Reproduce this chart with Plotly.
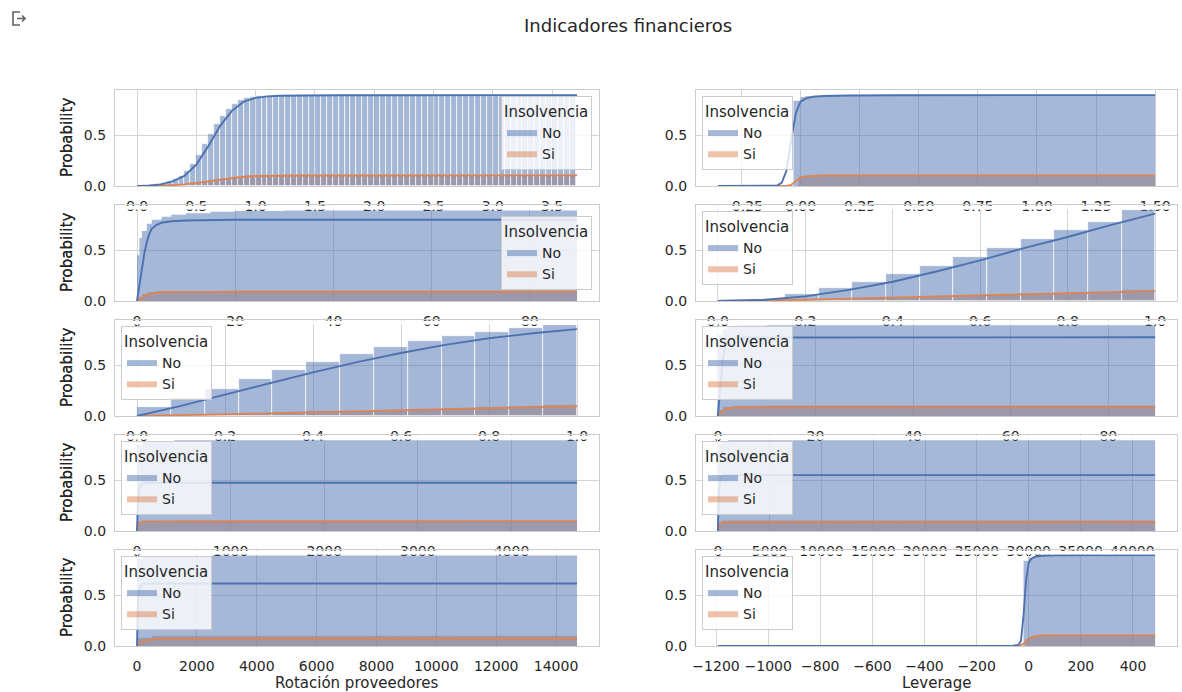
import plotly.graph_objects as go

W, H = 1182, 692

FONT = "DejaVu Sans"
TEXT = "#262626"
GRID = "#d4d4d4"
EDGE = "#cccccc"
BLUE = "#4c72b0"
ORANGE = "#dd8452"
BLUE_FILL = "rgba(76,114,176,0.5)"
ORANGE_FILL = "rgba(221,132,82,0.5)"

# ------------------------------------------------------------------
# Cumulative probability per indicator, split by Insolvencia (No / Si)
# ------------------------------------------------------------------

# Indicator 1: histogram bins of width 0.05 starting at 0
p1_start, p1_width = 0.0, 0.05
p1_no = [
    0.002, 0.005, 0.010, 0.018, 0.030, 0.048, 0.072, 0.100, 0.150, 0.220,
    0.310, 0.410, 0.510, 0.610, 0.690, 0.760, 0.810, 0.845, 0.865, 0.876,
    0.882, 0.886, 0.888, 0.889, 0.890, 0.891, 0.891, 0.892, 0.892, 0.892,
    0.893, 0.893, 0.893, 0.893, 0.894, 0.894, 0.894, 0.894, 0.894, 0.894,
    0.894, 0.894, 0.895, 0.895, 0.895, 0.895, 0.895, 0.895, 0.895, 0.895,
    0.895, 0.895, 0.895, 0.895, 0.895, 0.895, 0.895, 0.895, 0.895, 0.895,
    0.895, 0.895, 0.895, 0.895, 0.895, 0.895, 0.895, 0.895, 0.895, 0.895,
    0.895, 0.895, 0.895, 0.895,
]
p1_si = [
    0.000, 0.001, 0.002, 0.003, 0.005, 0.008, 0.012, 0.017, 0.023, 0.030,
    0.038, 0.047, 0.056, 0.065, 0.073, 0.080, 0.086, 0.091, 0.095, 0.098,
    0.100, 0.101, 0.102, 0.103, 0.103, 0.104, 0.104, 0.104, 0.105, 0.105,
    0.105, 0.105, 0.105, 0.105, 0.105, 0.105, 0.105, 0.105, 0.105, 0.105,
    0.105, 0.105, 0.105, 0.105, 0.105, 0.105, 0.105, 0.105, 0.105, 0.105,
    0.105, 0.105, 0.105, 0.105, 0.105, 0.105, 0.105, 0.105, 0.105, 0.105,
    0.105, 0.105, 0.105, 0.105, 0.105, 0.105, 0.105, 0.105, 0.105, 0.105,
    0.105, 0.105, 0.105, 0.105,
]
p1_line_x = [0, 0.1, 0.2, 0.3, 0.4, 0.5, 0.6, 0.7, 0.8, 0.9, 1.0, 1.1, 1.2,
             1.4, 1.7, 2.2, 3.0, 3.71]
p1_line_no = [0, 0.004, 0.016, 0.045, 0.10, 0.21, 0.39, 0.59, 0.74, 0.83,
              0.868, 0.882, 0.888, 0.891, 0.893, 0.894, 0.895, 0.895]
p1_line_si = [0, 0.001, 0.003, 0.008, 0.016, 0.028, 0.045, 0.063, 0.079,
              0.091, 0.098, 0.101, 0.103, 0.104, 0.104, 0.105, 0.105, 0.105]

# Indicator 2
p2_fill_x_no = [-0.35, -0.03, 0.0, 0.02, 0.05, 0.10, 0.30, 1.50]
p2_fill_no = [0.002, 0.84, 0.875, 0.886, 0.891, 0.893, 0.895, 0.895]
p2_fill_x_si = [-0.35, -0.01, 0.01, 0.05, 0.20, 1.50]
p2_fill_si = [0.001, 0.08, 0.098, 0.103, 0.105, 0.105]
p2_line_x_no = [-0.35, -0.15, -0.10, -0.08, -0.06, -0.04, -0.02, 0.0, 0.02,
                0.05, 0.10, 0.20, 0.40, 1.50]
p2_line_no = [0.0, 0.0, 0.005, 0.03, 0.15, 0.45, 0.72, 0.83, 0.86, 0.877,
              0.886, 0.891, 0.894, 0.895]
p2_line_x_si = [-0.35, -0.06, -0.04, -0.02, 0.0, 0.02, 0.05, 0.10, 0.30, 1.50]
p2_line_si = [0.0, 0.0, 0.01, 0.05, 0.085, 0.095, 0.10, 0.103, 0.105, 0.105]

# Indicator 3
p3_fill_x_no = [0, 0.5, 1, 2, 3, 5, 7, 10, 15, 20, 30, 89.6]
p3_fill_no = [0.45, 0.62, 0.69, 0.76, 0.80, 0.83, 0.85, 0.865, 0.878, 0.885,
              0.892, 0.895]
p3_fill_x_si = [0, 1, 2, 4, 8, 20, 89.6]
p3_fill_si = [0.04, 0.07, 0.085, 0.093, 0.098, 0.102, 0.105]
p3_line_x_no = [0, 0.5, 1, 1.5, 2, 2.5, 3, 4, 5, 7, 10, 20, 89.6]
p3_line_no = [0, 0.16, 0.33, 0.47, 0.58, 0.66, 0.71, 0.75, 0.77, 0.785, 0.793,
              0.80, 0.80]
p3_line_x_si = [0, 1, 2, 3, 4, 6, 10, 89.6]
p3_line_si = [0, 0.03, 0.06, 0.075, 0.083, 0.088, 0.09, 0.092]

# Indicator 4: 13 bins on [0, 1]
p4_start, p4_width = 0.0, 1 / 13
p4_no = [0.005, 0.022, 0.070, 0.125, 0.190, 0.265, 0.345, 0.430, 0.520,
         0.610, 0.695, 0.780, 0.895]
p4_si = [0.002, 0.007, 0.014, 0.021, 0.029, 0.036, 0.044, 0.052, 0.060,
         0.068, 0.077, 0.088, 0.105]
p4_line_x = [0, 0.1, 0.2, 0.3, 0.4, 0.5, 0.6, 0.7, 0.8, 0.9, 1.0]
p4_line_no = [0, 0.01, 0.045, 0.11, 0.19, 0.29, 0.40, 0.52, 0.63, 0.75, 0.86]
p4_line_si = [0, 0.004, 0.013, 0.023, 0.033, 0.043, 0.054, 0.064, 0.074,
              0.085, 0.097]

# Indicator 5: 13 bins on [0, 1]
p5_start, p5_width = 0.0, 1 / 13
p5_no = [0.085, 0.175, 0.270, 0.360, 0.450, 0.535, 0.610, 0.680, 0.740,
         0.790, 0.830, 0.865, 0.895]
p5_si = [0.006, 0.013, 0.021, 0.029, 0.037, 0.045, 0.053, 0.061, 0.069,
         0.077, 0.086, 0.095, 0.105]
p5_line_x = [0, 0.1, 0.2, 0.3, 0.4, 0.5, 0.6, 0.7, 0.8, 0.9, 1.0]
p5_line_no = [0, 0.10, 0.21, 0.32, 0.43, 0.53, 0.62, 0.70, 0.765, 0.815, 0.855]
p5_line_si = [0, 0.007, 0.016, 0.026, 0.036, 0.046, 0.056, 0.066, 0.076,
              0.086, 0.096]

# Indicator 6
p6_fill_x_no = [0, 1, 2, 4, 10, 89.6]
p6_fill_no = [0.80, 0.86, 0.88, 0.889, 0.893, 0.895]
p6_fill_x_si = [0, 1, 3, 10, 89.6]
p6_fill_si = [0.06, 0.09, 0.10, 0.103, 0.105]
p6_line_x_no = [0, 0.5, 1, 1.5, 2, 3, 5, 89.6]
p6_line_no = [0, 0.30, 0.55, 0.69, 0.74, 0.765, 0.773, 0.775]
p6_line_x_si = [0, 1, 2, 3, 5, 89.6]
p6_line_si = [0, 0.05, 0.072, 0.08, 0.084, 0.086]

# Indicator 7
p7_fill_x_no = [0, 50, 150, 400, 4700]
p7_fill_no = [0.85, 0.875, 0.885, 0.893, 0.895]
p7_fill_x_si = [0, 50, 200, 4700]
p7_fill_si = [0.09, 0.10, 0.103, 0.105]
p7_line_x_no = [0, 10, 30, 60, 100, 4700]
p7_line_no = [0, 0.30, 0.44, 0.47, 0.475, 0.475]
p7_line_x_si = [0, 20, 60, 4700]
p7_line_si = [0, 0.07, 0.092, 0.095]

# Indicator 8
p8_fill_x_no = [0, 300, 1000, 42200]
p8_fill_no = [0.86, 0.885, 0.893, 0.895]
p8_fill_x_si = [0, 300, 1000, 42200]
p8_fill_si = [0.085, 0.10, 0.103, 0.105]
p8_line_x_no = [0, 100, 300, 600, 42200]
p8_line_no = [0, 0.40, 0.53, 0.55, 0.55]
p8_line_x_si = [0, 200, 600, 42200]
p8_line_si = [0, 0.07, 0.085, 0.088]

# Rotación proveedores
p9_fill_x_no = [0, 200, 2500, 14700]
p9_fill_no = [0.86, 0.88, 0.89, 0.895]
p9_fill_x_si = [0, 500, 14700]
p9_fill_si = [0.08, 0.10, 0.105]
p9_line_x_no = [0, 30, 100, 200, 14700]
p9_line_no = [0, 0.45, 0.58, 0.615, 0.615]
p9_line_x_si = [0, 100, 300, 700, 14700]
p9_line_si = [0, 0.03, 0.055, 0.07, 0.072]

# Leverage
p10_fill_x_no = [-1193, -20, 0, 15, 40, 100, 485]
p10_fill_no = [0.003, 0.84, 0.87, 0.885, 0.892, 0.894, 0.895]
p10_fill_x_si = [-1193, -15, 5, 30, 485]
p10_fill_si = [0.001, 0.07, 0.095, 0.103, 0.105]
p10_line_x_no = [-1193, -60, -40, -30, -20, -10, 0, 10, 25, 50, 100, 485]
p10_line_no = [0, 0.002, 0.01, 0.05, 0.30, 0.65, 0.82, 0.86, 0.878, 0.888,
               0.893, 0.895]
p10_line_x_si = [-1193, -40, -20, 0, 20, 50, 100, 485]
p10_line_si = [0, 0.001, 0.02, 0.07, 0.095, 0.103, 0.105, 0.105]

# Tick labels
ticks1 = [0, 0.5, 1.0, 1.5, 2.0, 2.5, 3.0, 3.5]
ticks1_text = ["0.0", "0.5", "1.0", "1.5", "2.0", "2.5", "3.0", "3.5"]
ticks2 = [-0.25, 0, 0.25, 0.5, 0.75, 1.0, 1.25, 1.5]
ticks2_text = ["\u22120.25", "0.00", "0.25", "0.50", "0.75", "1.00", "1.25", "1.50"]
ticks_pct = [0, 20, 40, 60, 80]
ticks_pct_text = ["0", "20", "40", "60", "80"]
ticks_unit = [0, 0.2, 0.4, 0.6, 0.8, 1.0]
ticks_unit_text = ["0.0", "0.2", "0.4", "0.6", "0.8", "1.0"]
ticks7 = [0, 1000, 2000, 3000, 4000]
ticks7_text = ["0", "1000", "2000", "3000", "4000"]
ticks8 = [0, 5000, 10000, 15000, 20000, 25000, 30000, 35000, 40000]
ticks8_text = ["0", "5000", "10000", "15000", "20000", "25000", "30000",
               "35000", "40000"]
ticks9 = [0, 2000, 4000, 6000, 8000, 10000, 12000, 14000]
ticks9_text = ["0", "2000", "4000", "6000", "8000", "10000", "12000", "14000"]
ticks10 = [-1200, -1000, -800, -600, -400, -200, 0, 200, 400]
ticks10_text = ["\u22121200", "\u22121000", "\u2212800", "\u2212600", "\u2212400",
                "\u2212200", "0", "200", "400"]

prob_ticks = [0, 0.5]
prob_ticks_text = ["0.0", "0.5"]

# ------------------------------------------------------------------
# Panel specifications (row-major, 5 rows x 2 columns)
# ------------------------------------------------------------------
def bar_panel(start, width, no, si, lx, lno, lsi, span, tv, tt, leg):
    return dict(kind="bars", start=start, width=width, no=no, si=si,
                lx_no=lx, lno=lno, lx_si=lx, lsi=lsi, span=span,
                tv=tv, tt=tt, leg=leg)


def fill_panel(fxn, fno, fxs, fsi, lxn, lno, lxs, lsi, span, tv, tt, leg):
    return dict(kind="fill", fx_no=fxn, fno=fno, fx_si=fxs, fsi=fsi,
                lx_no=lxn, lno=lno, lx_si=lxs, lsi=lsi, span=span,
                tv=tv, tt=tt, leg=leg)


panels = [
    bar_panel(p1_start, p1_width, p1_no, p1_si, p1_line_x, p1_line_no,
              p1_line_si, (0.0, 3.71), ticks1, ticks1_text, "ur"),
    fill_panel(p2_fill_x_no, p2_fill_no, p2_fill_x_si, p2_fill_si,
               p2_line_x_no, p2_line_no, p2_line_x_si, p2_line_si,
               (-0.35, 1.5), ticks2, ticks2_text, "ul"),
    fill_panel(p3_fill_x_no, p3_fill_no, p3_fill_x_si, p3_fill_si,
               p3_line_x_no, p3_line_no, p3_line_x_si, p3_line_si,
               (0, 89.6), ticks_pct, ticks_pct_text, "cr"),
    bar_panel(p4_start, p4_width, p4_no, p4_si, p4_line_x, p4_line_no,
              p4_line_si, (0.0, 1.0), ticks_unit, ticks_unit_text, "ul"),
    bar_panel(p5_start, p5_width, p5_no, p5_si, p5_line_x, p5_line_no,
              p5_line_si, (0.0, 1.0), ticks_unit, ticks_unit_text, "ul"),
    fill_panel(p6_fill_x_no, p6_fill_no, p6_fill_x_si, p6_fill_si,
               p6_line_x_no, p6_line_no, p6_line_x_si, p6_line_si,
               (0, 89.6), ticks_pct, ticks_pct_text, "ul"),
    fill_panel(p7_fill_x_no, p7_fill_no, p7_fill_x_si, p7_fill_si,
               p7_line_x_no, p7_line_no, p7_line_x_si, p7_line_si,
               (0, 4700), ticks7, ticks7_text, "ul"),
    fill_panel(p8_fill_x_no, p8_fill_no, p8_fill_x_si, p8_fill_si,
               p8_line_x_no, p8_line_no, p8_line_x_si, p8_line_si,
               (0, 42200), ticks8, ticks8_text, "ul"),
    fill_panel(p9_fill_x_no, p9_fill_no, p9_fill_x_si, p9_fill_si,
               p9_line_x_no, p9_line_no, p9_line_x_si, p9_line_si,
               (0, 14700), ticks9, ticks9_text, "ul"),
    fill_panel(p10_fill_x_no, p10_fill_no, p10_fill_x_si, p10_fill_si,
               p10_line_x_no, p10_line_no, p10_line_x_si, p10_line_si,
               (-1193, 485), ticks10, ticks10_text, "ul"),
]

# Grid geometry in pixels
COLS = [(115, 599), (696, 1177)]
ROW_TOPS = [90, 205, 320, 435, 550]
ROW_H = 96
Y_MAX = 0.945


def px_x(px):
    return px / W


def px_y(py):
    return 1 - py / H


fig = go.Figure()
layout = dict(
    width=W, height=H,
    margin=dict(l=0, r=0, t=0, b=0, autoexpand=False),
    paper_bgcolor="white", plot_bgcolor="white",
    barmode="overlay", bargap=0,
    font=dict(family=FONT, color=TEXT, size=14),
    hovermode=False,
)
shapes = []
annotations = []

for i, p in enumerate(panels):
    n = i + 1
    r, c = divmod(i, 2)
    left, right = COLS[c]
    top = ROW_TOPS[r]
    bottom = top + ROW_H
    xa = "x" if n == 1 else f"x{n}"
    ya = "y" if n == 1 else f"y{n}"
    lg = "legend" if n == 1 else f"legend{n}"
    axes = dict(xaxis=xa, yaxis=ya)

    if p["kind"] == "bars":
        w = p["width"]
        centers = [p["start"] + (k + 0.5) * w for k in range(len(p["no"]))]
        for vals, col in ((p["si"], ORANGE), (p["no"], BLUE)):
            fig.add_trace(go.Bar(
                x=centers, y=vals, width=w, opacity=0.5,
                marker=dict(color=col, line=dict(color="white", width=0.7)),
                showlegend=False, **axes))
    else:
        for fx, fy, fc in ((p["fx_si"], p["fsi"], ORANGE_FILL),
                           (p["fx_no"], p["fno"], BLUE_FILL)):
            fig.add_trace(go.Scatter(
                x=fx, y=fy, mode="lines", fill="tozeroy", fillcolor=fc,
                line=dict(width=0, shape="hv"), showlegend=False, **axes))

    # cumulative density curves
    fig.add_trace(go.Scatter(x=p["lx_si"], y=p["lsi"], mode="lines",
                             line=dict(color=ORANGE, width=1.9),
                             showlegend=False, **axes))
    fig.add_trace(go.Scatter(x=p["lx_no"], y=p["lno"], mode="lines",
                             line=dict(color=BLUE, width=1.9),
                             showlegend=False, **axes))

    # legend entries
    for name, fc in (("No", BLUE_FILL), ("Si", ORANGE_FILL)):
        fig.add_trace(go.Scatter(x=[None], y=[None], mode="lines", name=name,
                                 fill="tozeroy", fillcolor=fc,
                                 line=dict(width=0), legend=lg,
                                 showlegend=True, **axes))

    lo, hi = p["span"]
    pad = 0.05 * (hi - lo)
    common = dict(showgrid=True, gridcolor=GRID, gridwidth=1, zeroline=False,
                  showline=True, mirror=True, linecolor=EDGE, linewidth=1.25,
                  ticks="", tickfont=dict(size=14, color=TEXT),
                  fixedrange=True, automargin=False)
    layout["xaxis" if n == 1 else f"xaxis{n}"] = dict(
        domain=[px_x(left), px_x(right)], range=[lo - pad, hi + pad],
        tickmode="array", tickvals=p["tv"], ticktext=p["tt"],
        anchor=ya, ticklabelstandoff=7, **common)
    layout["yaxis" if n == 1 else f"yaxis{n}"] = dict(
        domain=[px_y(bottom), px_y(top)], range=[0, Y_MAX],
        tickmode="array", tickvals=prob_ticks, ticktext=prob_ticks_text,
        anchor=xa, ticklabelstandoff=5, **common)

    # legend box
    if p["leg"] == "ul":
        lx, xanc, ly, yanc = left + 6, "left", top + 6, "top"
    elif p["leg"] == "ur":
        lx, xanc, ly, yanc = right - 7, "right", top + 6, "top"
    else:
        lx, xanc, ly, yanc = right - 7, "right", top + ROW_H / 2, "middle"
    layout[lg] = dict(
        title=dict(text="Insolvencia", font=dict(size=15, color=TEXT)),
        font=dict(size=14, color=TEXT),
        bgcolor="rgba(255,255,255,0.8)", bordercolor=EDGE, borderwidth=1,
        x=px_x(lx), y=px_y(ly), xanchor=xanc, yanchor=yanc,
        xref="paper", yref="paper", itemwidth=30, tracegroupgap=0,
    )

    # y axis title
    annotations.append(dict(
        text="Probability", textangle=-90, x=px_x(67), y=px_y(top + ROW_H / 2),
        xref="paper", yref="paper", showarrow=False,
        font=dict(size=15, color=TEXT), xanchor="center", yanchor="middle"))

    # the panel below hides the lower part of this panel's tick labels
    if r < len(ROW_TOPS) - 1:
        nt = ROW_TOPS[r + 1]
        shapes.append(dict(
            type="rect", xref="paper", yref="paper", layer="above",
            x0=px_x(left + 1), x1=px_x(right - 1),
            y0=px_y(nt + 0.8), y1=px_y(nt + 4.6),
            fillcolor="white", line=dict(width=0)))

# x axis titles of the bottom row
for c, label in enumerate(["Rotación proveedores", "Leverage"]):
    left, right = COLS[c]
    annotations.append(dict(
        text=label, x=px_x((left + right) / 2), y=px_y(683),
        xref="paper", yref="paper", showarrow=False,
        font=dict(size=15, color=TEXT), xanchor="center", yanchor="middle"))

# figure title
annotations.append(dict(
    text="Indicadores financieros", x=px_x(628), y=px_y(25),
    xref="paper", yref="paper", showarrow=False,
    font=dict(size=18, color=TEXT), xanchor="center", yanchor="middle"))

# output-cell icon
icon_path = (f"M {px_x(20)},{px_y(12)} L {px_x(13)},{px_y(12)} "
             f"L {px_x(13)},{px_y(25)} L {px_x(20)},{px_y(25)} "
             f"M {px_x(17)},{px_y(18.5)} L {px_x(25)},{px_y(18.5)} "
             f"M {px_x(22)},{px_y(15.5)} L {px_x(25)},{px_y(18.5)} "
             f"L {px_x(22)},{px_y(21.5)}")
shapes.append(dict(type="path", path=icon_path, xref="paper", yref="paper",
                   line=dict(color="#5f6368", width=1.6)))

layout["shapes"] = shapes
layout["annotations"] = annotations
fig.update_layout(**layout)

fig.write_html("out.html", config=dict(displayModeBar=False))
